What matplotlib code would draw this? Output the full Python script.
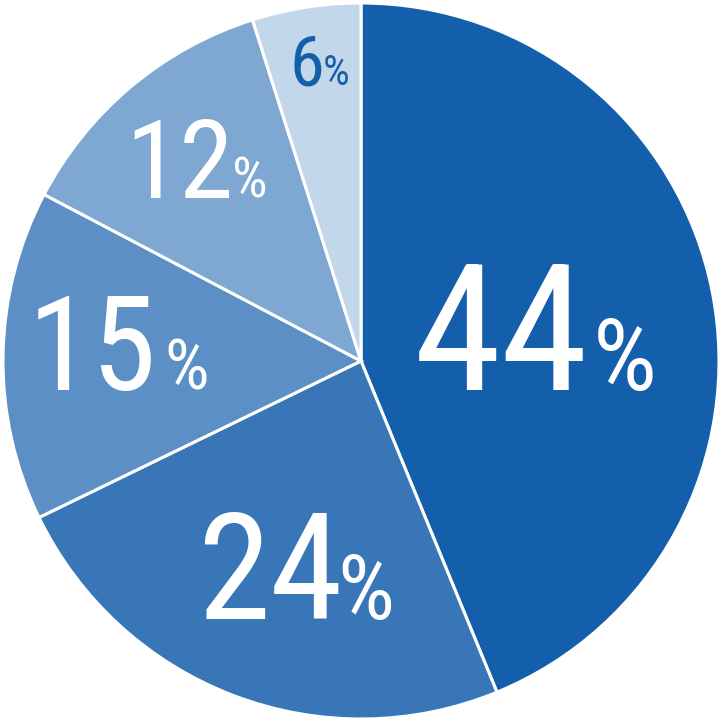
import matplotlib.pyplot as plt

# shares by segment, clockwise from 12 o'clock (wedge sizes)
labels = ['44', '24', '15', '12', '6']
values = [43.8, 24.0, 14.9, 12.4, 4.9]
colors = ['#145fac', '#3876b8', '#5b8fc5', '#7ea8d1', '#c3d7eb']
text_colors = ['white', 'white', 'white', 'white', '#145fac']

# label layout in pixels: (number right edge, % left edge, baseline, number size, % size)
layout = [
    (580, 598, 390, 126, 72),
    (335, 342, 619, 105, 64),
    (150, 168, 390, 93, 50),
    (228, 235, 198, 78, 40),
    (321, 325, 85, 50, 30),
]

plt.rcParams['font.family'] = ['Roboto Condensed', 'Roboto', 'DejaVu Sans']

W = 722
fig = plt.figure(figsize=(7.22, 7.22), dpi=100)
ax = fig.add_axes([0, 0, 1, 1])
ax.pie(values, colors=colors, startangle=90, counterclock=False,
       radius=1.0, wedgeprops=dict(edgecolor='white', linewidth=2.2))
lim = 361 / 358
ax.set_xlim(-lim, lim)
ax.set_ylim(-lim, lim)
ax.set_aspect('equal')
ax.axis('off')

for lab, col, (xn, xp, yb, fs_n, fs_p) in zip(labels, text_colors, layout):
    em_n = fs_n / 0.711
    em_p = fs_p / 0.711
    # nudge for the glyph side bearings
    fig.text((xn + 0.05 * em_n) / W, 1 - yb / W, lab, color=col,
             ha='right', va='baseline', fontsize=em_n * 0.72)
    fig.text((xp - 0.05 * em_p) / W, 1 - yb / W, '%', color=col,
             ha='left', va='baseline', fontsize=em_p * 0.72)

fig.savefig('out.png', dpi=100)
